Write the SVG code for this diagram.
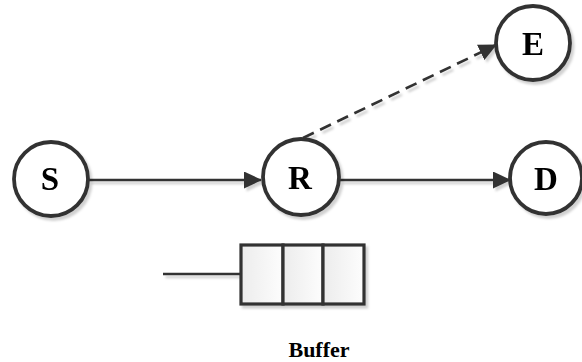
<svg xmlns="http://www.w3.org/2000/svg" width="582" height="362" viewBox="0 0 582 362">
<style>
.node{fill:#fff;stroke:#333;stroke-width:3.8}
.lbl{font-family:"Liberation Serif","Times New Roman",serif;font-weight:bold;font-size:33px;fill:#000;text-anchor:middle}
.edge{fill:none;stroke:#333;stroke-width:2.6}
.cell{fill:url(#g);stroke:#333;stroke-width:3.2}
</style>
<defs>
<filter id="sh" x="-20%" y="-20%" width="140%" height="140%">
<feDropShadow dx="2.5" dy="3" stdDeviation="1" flood-color="#000" flood-opacity="0.18"/>
</filter>
<linearGradient id="g" x1="0" y1="0" x2="1" y2="0">
<stop offset="0" stop-color="#ececec"/>
<stop offset="1" stop-color="#fdfdfd"/>
</linearGradient>
<marker id="arr" markerWidth="18" markerHeight="17" refX="17" refY="8.5" orient="auto" markerUnits="userSpaceOnUse">
<path d="M0,0 L18,8.5 L0,17 Z" fill="#333"/>
</marker>
</defs>
<g id="connectors" filter="url(#sh)">
<line class="edge" x1="89" y1="180" x2="261" y2="180" marker-end="url(#arr)"/>
<line class="edge" x1="340" y1="180" x2="510" y2="180" marker-end="url(#arr)"/>
<line class="edge" x1="303" y1="138" x2="496" y2="45" stroke-dasharray="12,7" marker-end="url(#arr)"/>
</g>
<g id="S" filter="url(#sh)">
<circle class="node" cx="51" cy="179" r="37"/>
<text class="lbl" x="50" y="190">S</text>
</g>
<g id="R" filter="url(#sh)">
<circle class="node" cx="301" cy="177" r="38"/>
<text class="lbl" x="300" y="189">R</text>
</g>
<g id="E" filter="url(#sh)">
<circle class="node" cx="533" cy="43" r="37"/>
<text class="lbl" x="533" y="55">E</text>
</g>
<g id="D" filter="url(#sh)">
<circle class="node" cx="546" cy="178" r="36"/>
<text class="lbl" x="546" y="190">D</text>
</g>
<g id="buffer" filter="url(#sh)">
<line class="edge" x1="163" y1="274" x2="241" y2="274"/>
<rect class="cell" x="241" y="245" width="42" height="59"/>
<rect class="cell" x="283" y="245" width="40" height="59"/>
<rect class="cell" x="323" y="245" width="41" height="59"/>
</g>
<text id="buffer-label" x="319" y="357" style="font-family:'Liberation Serif','Times New Roman',serif;font-weight:bold;font-size:22px;text-anchor:middle;fill:#000">Buffer</text>
</svg>
